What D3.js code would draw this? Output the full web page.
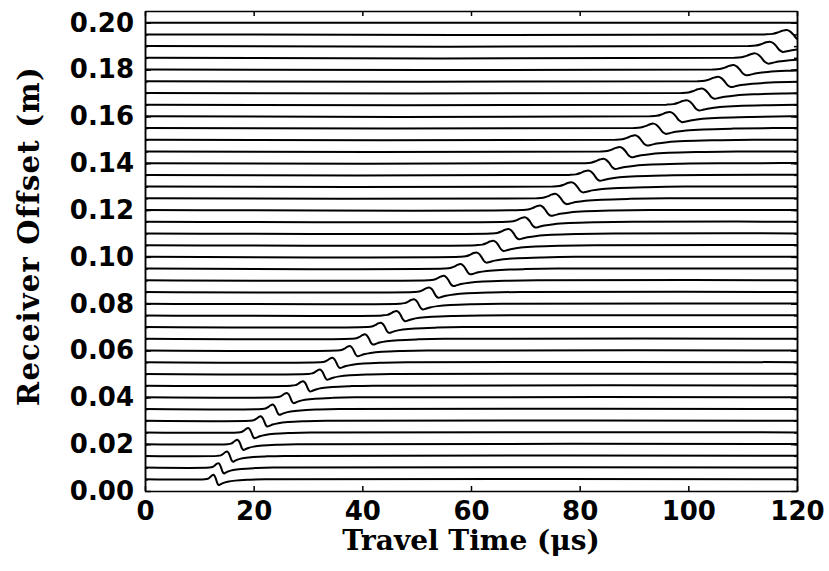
<!DOCTYPE html>
<html lang="en">

<head>
    <meta charset="UTF-8">
    <script src="https://cdnjs.cloudflare.com/ajax/libs/d3/7.9.0/d3.min.js"></script>
    <title>Receiver Offset vs Travel Time</title>
    <style>
        body {
            margin: 0;
            background-color: white;
        }

        svg {
            display: block;
        }

        .tick-label text {
            font-family: "DejaVu Sans", sans-serif;
            font-weight: bold;
            font-size: 26px;
            fill: black;
        }

        .title {
            font-family: "DejaVu Serif", serif;
            font-weight: bold;
            fill: black;
        }
    </style>
</head>

<body>
    <div id="content"></div>
    <script>
        const width = 829;
        const height = 571;
        const margin = { top: 11, right: 32, bottom: 80, left: 145 };

        // receiver offsets (m), one trace each
        const offsets = [0.005, 0.010, 0.015, 0.020, 0.025, 0.030, 0.035, 0.040,
            0.045, 0.050, 0.055, 0.060, 0.065, 0.070, 0.075, 0.080, 0.085, 0.090,
            0.095, 0.100, 0.105, 0.110, 0.115, 0.120, 0.125, 0.130, 0.135, 0.140,
            0.145, 0.150, 0.155, 0.160, 0.165, 0.170, 0.175, 0.180, 0.185, 0.190,
            0.195, 0.200];

        // time of the wavelet peak on each trace (us), null = no arrival inside the window
        const arrivals = [12.6, 13.5, 15.1, 17.0, 19.0, 21.3, 23.5, 26.1,
            29.1, 32.2, 34.5, 37.7, 40.5, 43.4, 46.3, 49.5, 52.3, 55.0,
            58.1, 61.0, 64.1, 66.9, 69.9, 72.7, 75.5, 78.5, 81.6, 84.4,
            87.4, 90.2, 93.6, 96.6, 99.7, 102.5, 105.5, 108.3, 112.3, 115.0,
            118.1, null];

        // wavelet width factor on each trace (pulse gets broader with offset)
        const widths = [0.40, 0.42, 0.44, 0.46, 0.48, 0.50, 0.51, 0.52,
            0.54, 0.55, 0.57, 0.59, 0.61, 0.63, 0.65, 0.67, 0.70, 0.72,
            0.74, 0.76, 0.78, 0.80, 0.82, 0.84, 0.86, 0.87, 0.88, 0.89,
            0.90, 0.91, 0.92, 0.93, 0.94, 0.95, 0.96, 0.97, 0.98, 0.99,
            1.00, 1.00];

        // pulse shape: time from peak (us) and relative amplitude
        const pulseDt = [-4.0, -2.6, -1.6, -0.8, 0, 0.6, 1.2, 1.8, 2.4, 3.2, 4.4, 6.5, 10, 16, 24];
        const pulseAmp = [0, 0.12, 0.45, 0.82, 1.0, 0.7, 0.0, -0.9, -1.3, -1.15, -0.85, -0.55, -0.3, -0.12, 0];
        const pulseScale = 0.0019; // metres of deflection per unit amplitude

        const xTicks = [0, 20, 40, 60, 80, 100, 120];
        const yTicks = [0.00, 0.02, 0.04, 0.06, 0.08, 0.10, 0.12, 0.14, 0.16, 0.18, 0.20];

        const svg = d3.select("#content").append("svg")
            .attr("width", width)
            .attr("height", height);

        svg.append("rect")
            .attr("width", width)
            .attr("height", height)
            .attr("fill", "white");

        const x = d3.scaleLinear()
            .domain([0, 120])
            .range([margin.left, width - margin.right]);

        const y = d3.scaleLinear()
            .domain([0, 0.205])
            .range([height - margin.bottom, margin.top]);

        svg.append("clipPath")
            .attr("id", "plot-clip")
            .append("rect")
            .attr("x", margin.left)
            .attr("y", margin.top)
            .attr("width", width - margin.left - margin.right)
            .attr("height", height - margin.top - margin.bottom);

        // build each trace: flat baseline with the pulse at its arrival time
        const traces = offsets.map((o, i) => {
            const pts = [[0, o]];
            if (arrivals[i] !== null) {
                pulseDt.forEach((dt, j) => {
                    pts.push([arrivals[i] + dt * widths[i], o + pulseAmp[j] * pulseScale]);
                });
            }
            pts.push([130, o]);
            return pts;
        });

        const line = d3.line()
            .x(d => x(d[0]))
            .y(d => y(d[1]))
            .curve(d3.curveCatmullRom.alpha(0.5));

        svg.append("g")
            .attr("clip-path", "url(#plot-clip)")
            .selectAll("path")
            .data(traces)
            .enter()
            .append("path")
            .attr("d", line)
            .attr("fill", "none")
            .attr("stroke", "black")
            .attr("stroke-width", 2);

        // axes, ticks point into the plot
        svg.append("g")
            .attr("class", "tick-label")
            .attr("transform", `translate(0, ${height - margin.bottom})`)
            .call(d3.axisBottom(x).tickValues(xTicks).tickSize(-5).tickSizeOuter(0).tickPadding(11));

        svg.append("g")
            .attr("transform", `translate(0, ${margin.top})`)
            .call(d3.axisTop(x).tickValues(xTicks).tickSize(-5).tickSizeOuter(0).tickFormat(""));

        svg.append("g")
            .attr("class", "tick-label")
            .attr("transform", `translate(${margin.left}, 0)`)
            .call(d3.axisLeft(y).tickValues(yTicks).tickFormat(d3.format(".2f")).tickSize(-6).tickSizeOuter(0).tickPadding(11));

        svg.append("g")
            .attr("transform", `translate(${margin.left}, 0)`)
            .call(d3.axisLeft(y).tickValues(offsets).tickFormat("").tickSize(-3).tickSizeOuter(0));

        svg.append("g")
            .attr("transform", `translate(${width - margin.right}, 0)`)
            .call(d3.axisRight(y).tickValues(offsets).tickFormat("").tickSize(-3).tickSizeOuter(0));

        svg.append("g")
            .attr("transform", `translate(${width - margin.right}, 0)`)
            .call(d3.axisRight(y).tickValues(yTicks).tickFormat("").tickSize(-6).tickSizeOuter(0));

        svg.selectAll(".domain, .tick line")
            .attr("stroke", "black")
            .attr("stroke-width", 1.5);

        svg.selectAll(".tick-label .tick text")
            .attr("fill", "black");

        // axis titles
        svg.append("text")
            .attr("class", "title")
            .attr("x", (margin.left + width - margin.right) / 2)
            .attr("y", 550)
            .attr("text-anchor", "middle")
            .style("font-size", "28px")
            .text("Travel Time (\u03bcs)");

        svg.append("text")
            .attr("class", "title")
            .attr("transform", "translate(39, 236) rotate(-90)")
            .attr("text-anchor", "middle")
            .style("font-size", "29px")
            .style("letter-spacing", "1.2px")
            .text("Receiver Offset (m)");
    </script>

</body>

</html>
